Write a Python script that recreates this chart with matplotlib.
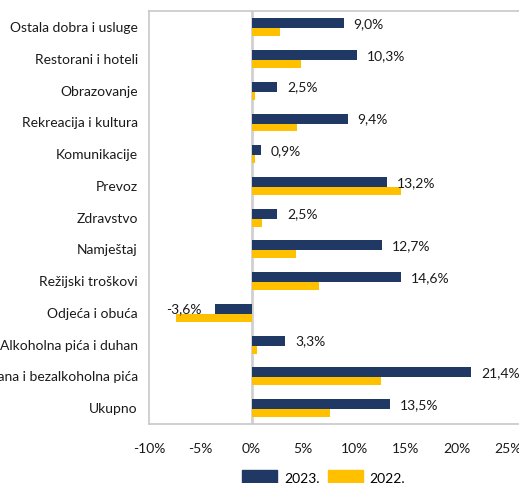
import matplotlib
matplotlib.use("Agg")
import matplotlib.pyplot as plt
from matplotlib.patches import Patch

categories = ["Ostala dobra i usluge", "Restorani i hoteli", "Obrazovanje",
              "Rekreacija i kultura", "Komunikacije", "Prevoz", "Zdravstvo",
              "Namještaj", "Režijski troškovi", "Odjeća i obuća",
              "Alkoholna pića i duhan", "Hrana i bezalkoholna pića", "Ukupno"]
v2023 = [9.0, 10.3, 2.5, 9.4, 0.9, 13.2, 2.5, 12.7, 14.6, -3.6, 3.3, 21.4, 13.5]
v2022 = [2.8, 4.8, 0.3, 4.4, 0.3, 14.6, 1.0, 4.3, 6.6, -7.4, 0.5, 12.6, 7.6]
xticks = [-10, -5, 0, 5, 10, 15, 20, 25]
xticklabels = ["-10%", "-5%", "0%", "5%", "10%", "15%", "20%", "25%"]

NAVY = "#1F3864"
GOLD = "#FFC000"
plt.rcParams['font.family'] = ['Lato', 'DejaVu Sans']
FS = 10.0
TXT = "#1a1a1a"

fig = plt.figure(figsize=(5.19, 4.83), dpi=100)
ax = fig.add_axes([149/519, 1 - 424/483, 1 - 149/519, (424 - 11.4)/483])

n = len(categories)
ypos = [n - 1 - i for i in range(n)]

ax.barh([y + 0.125 for y in ypos], v2023, height=0.315, color=NAVY, zorder=3)
ax.barh([y - 0.157 for y in ypos], v2022, height=0.25, color=GOLD, zorder=3)

for y, v in zip(ypos, v2023):
    txt = f"{v:.1f}%".replace(".", ",")
    if v >= 0:
        ax.text(v + 0.95, y + 0.1, txt, ha="left", va="center", fontsize=FS, color=TXT, zorder=4)
    else:
        ax.text(v - 1.3, y + 0.12, txt, ha="right", va="center", fontsize=FS, color=TXT, zorder=4)

ax.set_xlim(-10, 26.07)
ax.set_ylim(-0.5, n - 0.5)
ax.set_yticks(ypos)
ax.set_yticklabels(categories, fontsize=FS, color=TXT)
ax.set_xticks(xticks)
ax.set_xticklabels(xticklabels, fontsize=FS, color=TXT)
ax.tick_params(axis="both", length=0)
ax.tick_params(axis="y", pad=8)
ax.tick_params(axis="x", pad=14)

ax.axvline(0, color="#D0D0D0", lw=2, zorder=2)
for s in ["left", "top", "bottom"]:
    ax.spines[s].set_color("#C8C8C8")
    ax.spines[s].set_linewidth(1.2)
ax.spines["right"].set_visible(False)

handles = [Patch(color=NAVY, label="2023."), Patch(color=GOLD, label="2022.")]
fig.legend(handles=handles, loc="center", bbox_to_anchor=(0.624, 1 - 478/483),
           ncol=2, frameon=False, fontsize=FS, handlelength=2.5, handleheight=1.3,
           columnspacing=0.6, handletextpad=0.5, borderpad=0)

fig.savefig("out.png", dpi=100)
